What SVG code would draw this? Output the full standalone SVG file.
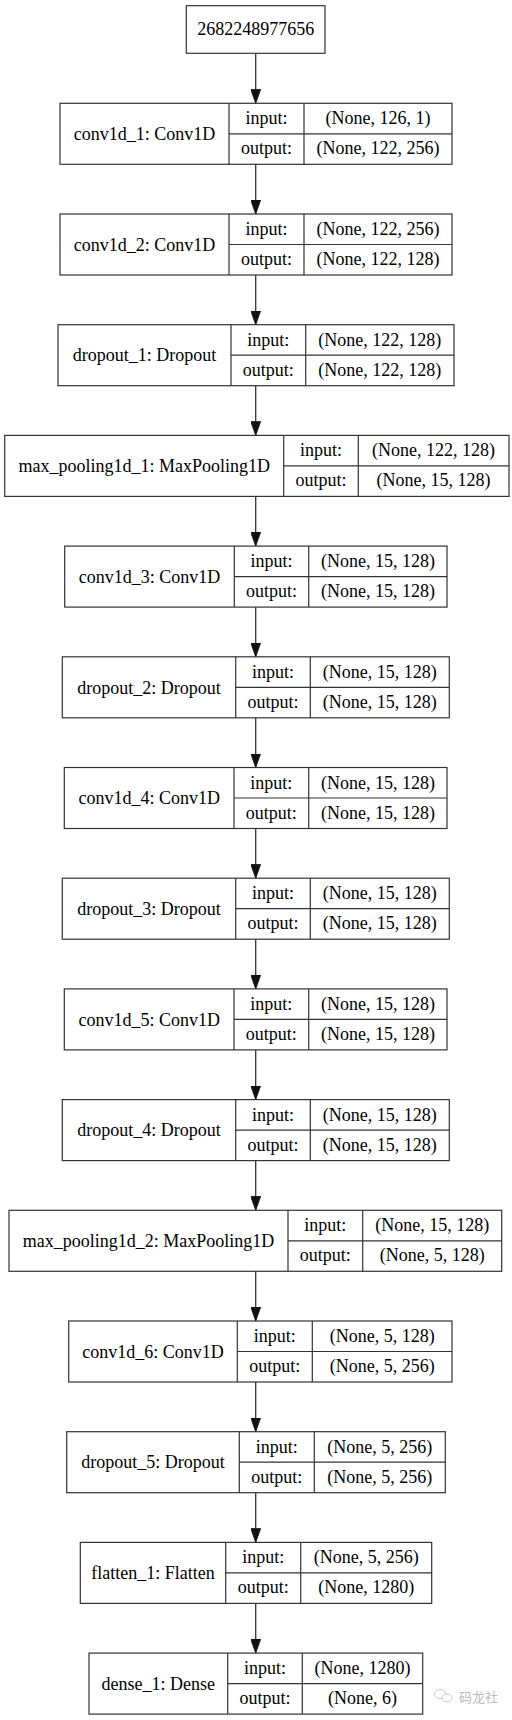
<svg xmlns="http://www.w3.org/2000/svg" width="512" height="1720" viewBox="0 0 512 1720">
<style>
.box{fill:none;stroke:#333;stroke-width:1.2}
.div{stroke:#333;stroke-width:1.2}
text{font-family:"Liberation Serif","Times New Roman",serif;font-size:18px;fill:#000;text-anchor:middle}
.edge{stroke:#333;stroke-width:1.3;fill:none}
.wm{font-family:"Noto Sans CJK SC",sans-serif;font-size:13px;fill:#bbb;text-anchor:start}
</style>
<defs>
<marker id="ah" viewBox="0 0 14 10" refX="14" refY="5" markerWidth="14" markerHeight="10" markerUnits="userSpaceOnUse" orient="auto">
<path d="M0,0 L14,5 L0,10 z" fill="#111" stroke="#111" stroke-width="0.8"/>
</marker>
</defs>
<rect width="512" height="1720" fill="#fff"/>

<g id="connectors">
<line class="edge" x1="255.7" y1="53.3" x2="255.7" y2="103.3" marker-end="url(#ah)"/>
<line class="edge" x1="255.7" y1="164.3" x2="255.7" y2="214" marker-end="url(#ah)"/>
<line class="edge" x1="255.7" y1="275" x2="255.7" y2="324.7" marker-end="url(#ah)"/>
<line class="edge" x1="255.7" y1="385.7" x2="255.7" y2="435.4" marker-end="url(#ah)"/>
<line class="edge" x1="255.7" y1="496.4" x2="255.7" y2="546.1" marker-end="url(#ah)"/>
<line class="edge" x1="255.7" y1="607.1" x2="255.7" y2="656.8" marker-end="url(#ah)"/>
<line class="edge" x1="255.7" y1="717.8" x2="255.7" y2="767.5" marker-end="url(#ah)"/>
<line class="edge" x1="255.7" y1="828.5" x2="255.7" y2="878.2" marker-end="url(#ah)"/>
<line class="edge" x1="255.7" y1="939.2" x2="255.7" y2="988.9" marker-end="url(#ah)"/>
<line class="edge" x1="255.7" y1="1049.9" x2="255.7" y2="1099.6" marker-end="url(#ah)"/>
<line class="edge" x1="255.7" y1="1160.6" x2="255.7" y2="1210.3" marker-end="url(#ah)"/>
<line class="edge" x1="255.7" y1="1271.3" x2="255.7" y2="1321" marker-end="url(#ah)"/>
<line class="edge" x1="255.7" y1="1382" x2="255.7" y2="1431.7" marker-end="url(#ah)"/>
<line class="edge" x1="255.7" y1="1492.7" x2="255.7" y2="1542.4" marker-end="url(#ah)"/>
<line class="edge" x1="255.7" y1="1603.4" x2="255.7" y2="1653.1" marker-end="url(#ah)"/>
</g>

<g id="input_node">
<rect class="box" x="186.3" y="5.7" width="138.7" height="47.6"/>
<text x="255.7" y="35">2682248977656</text>
</g>

<g id="conv1d_1">
<rect class="box" x="60" y="103.3" width="392" height="61"/>
<line class="div" x1="229" y1="103.3" x2="229" y2="164.3"/>
<line class="div" x1="304" y1="103.3" x2="304" y2="164.3"/>
<line class="div" x1="229" y1="133.8" x2="452" y2="133.8"/>
<text x="144.5" y="140">conv1d_1: Conv1D</text>
<text x="266.5" y="124.3">input:</text>
<text x="266.5" y="154.3">output:</text>
<text x="378" y="124.3">(None, 126, 1)</text>
<text x="378" y="154.3">(None, 122, 256)</text>
</g>

<g id="conv1d_2">
<rect class="box" x="60" y="214" width="392" height="61"/>
<line class="div" x1="229" y1="214" x2="229" y2="275"/>
<line class="div" x1="304" y1="214" x2="304" y2="275"/>
<line class="div" x1="229" y1="244.5" x2="452" y2="244.5"/>
<text x="144.5" y="250.7">conv1d_2: Conv1D</text>
<text x="266.5" y="235">input:</text>
<text x="266.5" y="265">output:</text>
<text x="378" y="235">(None, 122, 256)</text>
<text x="378" y="265">(None, 122, 128)</text>
</g>

<g id="dropout_1">
<rect class="box" x="58" y="324.7" width="396" height="61"/>
<line class="div" x1="231" y1="324.7" x2="231" y2="385.7"/>
<line class="div" x1="305.7" y1="324.7" x2="305.7" y2="385.7"/>
<line class="div" x1="231" y1="355.2" x2="454" y2="355.2"/>
<text x="144.5" y="361.4">dropout_1: Dropout</text>
<text x="268.3" y="345.7">input:</text>
<text x="268.3" y="375.7">output:</text>
<text x="379.8" y="345.7">(None, 122, 128)</text>
<text x="379.8" y="375.7">(None, 122, 128)</text>
</g>

<g id="max_pooling1d_1">
<rect class="box" x="4.7" y="435.4" width="504.3" height="61"/>
<line class="div" x1="283.7" y1="435.4" x2="283.7" y2="496.4"/>
<line class="div" x1="358.3" y1="435.4" x2="358.3" y2="496.4"/>
<line class="div" x1="283.7" y1="465.9" x2="509" y2="465.9"/>
<text x="144.2" y="472.1">max_pooling1d_1: MaxPooling1D</text>
<text x="321" y="456.4">input:</text>
<text x="321" y="486.4">output:</text>
<text x="433.6" y="456.4">(None, 122, 128)</text>
<text x="433.6" y="486.4">(None, 15, 128)</text>
</g>

<g id="conv1d_3">
<rect class="box" x="64.7" y="546.1" width="382.3" height="61"/>
<line class="div" x1="234.3" y1="546.1" x2="234.3" y2="607.1"/>
<line class="div" x1="308.7" y1="546.1" x2="308.7" y2="607.1"/>
<line class="div" x1="234.3" y1="576.6" x2="447" y2="576.6"/>
<text x="149.5" y="582.8">conv1d_3: Conv1D</text>
<text x="271.5" y="567.1">input:</text>
<text x="271.5" y="597.1">output:</text>
<text x="377.9" y="567.1">(None, 15, 128)</text>
<text x="377.9" y="597.1">(None, 15, 128)</text>
</g>

<g id="dropout_2">
<rect class="box" x="62.3" y="656.8" width="387" height="61"/>
<line class="div" x1="235.7" y1="656.8" x2="235.7" y2="717.8"/>
<line class="div" x1="310.3" y1="656.8" x2="310.3" y2="717.8"/>
<line class="div" x1="235.7" y1="687.3" x2="449.3" y2="687.3"/>
<text x="149" y="693.5">dropout_2: Dropout</text>
<text x="273" y="677.8">input:</text>
<text x="273" y="707.8">output:</text>
<text x="379.8" y="677.8">(None, 15, 128)</text>
<text x="379.8" y="707.8">(None, 15, 128)</text>
</g>

<g id="conv1d_4">
<rect class="box" x="64.3" y="767.5" width="382.7" height="61"/>
<line class="div" x1="234" y1="767.5" x2="234" y2="828.5"/>
<line class="div" x1="308.7" y1="767.5" x2="308.7" y2="828.5"/>
<line class="div" x1="234" y1="798" x2="447" y2="798"/>
<text x="149.2" y="804.2">conv1d_4: Conv1D</text>
<text x="271.3" y="788.5">input:</text>
<text x="271.3" y="818.5">output:</text>
<text x="377.9" y="788.5">(None, 15, 128)</text>
<text x="377.9" y="818.5">(None, 15, 128)</text>
</g>

<g id="dropout_3">
<rect class="box" x="62.3" y="878.2" width="387" height="61"/>
<line class="div" x1="235.7" y1="878.2" x2="235.7" y2="939.2"/>
<line class="div" x1="310.3" y1="878.2" x2="310.3" y2="939.2"/>
<line class="div" x1="235.7" y1="908.7" x2="449.3" y2="908.7"/>
<text x="149" y="914.9">dropout_3: Dropout</text>
<text x="273" y="899.2">input:</text>
<text x="273" y="929.2">output:</text>
<text x="379.8" y="899.2">(None, 15, 128)</text>
<text x="379.8" y="929.2">(None, 15, 128)</text>
</g>

<g id="conv1d_5">
<rect class="box" x="64.3" y="988.9" width="382.7" height="61"/>
<line class="div" x1="234" y1="988.9" x2="234" y2="1049.9"/>
<line class="div" x1="308.7" y1="988.9" x2="308.7" y2="1049.9"/>
<line class="div" x1="234" y1="1019.4" x2="447" y2="1019.4"/>
<text x="149.2" y="1025.6">conv1d_5: Conv1D</text>
<text x="271.3" y="1009.9">input:</text>
<text x="271.3" y="1039.9">output:</text>
<text x="377.9" y="1009.9">(None, 15, 128)</text>
<text x="377.9" y="1039.9">(None, 15, 128)</text>
</g>

<g id="dropout_4">
<rect class="box" x="62.3" y="1099.6" width="387" height="61"/>
<line class="div" x1="235.7" y1="1099.6" x2="235.7" y2="1160.6"/>
<line class="div" x1="310.3" y1="1099.6" x2="310.3" y2="1160.6"/>
<line class="div" x1="235.7" y1="1130.1" x2="449.3" y2="1130.1"/>
<text x="149" y="1136.3">dropout_4: Dropout</text>
<text x="273" y="1120.6">input:</text>
<text x="273" y="1150.6">output:</text>
<text x="379.8" y="1120.6">(None, 15, 128)</text>
<text x="379.8" y="1150.6">(None, 15, 128)</text>
</g>

<g id="max_pooling1d_2">
<rect class="box" x="9" y="1210.3" width="492.7" height="61"/>
<line class="div" x1="288" y1="1210.3" x2="288" y2="1271.3"/>
<line class="div" x1="362.7" y1="1210.3" x2="362.7" y2="1271.3"/>
<line class="div" x1="288" y1="1240.8" x2="501.7" y2="1240.8"/>
<text x="148.5" y="1247">max_pooling1d_2: MaxPooling1D</text>
<text x="325.3" y="1231.3">input:</text>
<text x="325.3" y="1261.3">output:</text>
<text x="432.2" y="1231.3">(None, 15, 128)</text>
<text x="432.2" y="1261.3">(None, 5, 128)</text>
</g>

<g id="conv1d_6">
<rect class="box" x="68.7" y="1321" width="383.3" height="61"/>
<line class="div" x1="237.3" y1="1321" x2="237.3" y2="1382"/>
<line class="div" x1="312.3" y1="1321" x2="312.3" y2="1382"/>
<line class="div" x1="237.3" y1="1351.5" x2="452" y2="1351.5"/>
<text x="153" y="1357.7">conv1d_6: Conv1D</text>
<text x="274.8" y="1342">input:</text>
<text x="274.8" y="1372">output:</text>
<text x="382.2" y="1342">(None, 5, 128)</text>
<text x="382.2" y="1372">(None, 5, 256)</text>
</g>

<g id="dropout_5">
<rect class="box" x="66.7" y="1431.7" width="378.6" height="61"/>
<line class="div" x1="239.3" y1="1431.7" x2="239.3" y2="1492.7"/>
<line class="div" x1="314.3" y1="1431.7" x2="314.3" y2="1492.7"/>
<line class="div" x1="239.3" y1="1462.2" x2="445.3" y2="1462.2"/>
<text x="153" y="1468.4">dropout_5: Dropout</text>
<text x="276.8" y="1452.7">input:</text>
<text x="276.8" y="1482.7">output:</text>
<text x="379.8" y="1452.7">(None, 5, 256)</text>
<text x="379.8" y="1482.7">(None, 5, 256)</text>
</g>

<g id="flatten_1">
<rect class="box" x="80.3" y="1542.4" width="351.4" height="61"/>
<line class="div" x1="225.7" y1="1542.4" x2="225.7" y2="1603.4"/>
<line class="div" x1="300.7" y1="1542.4" x2="300.7" y2="1603.4"/>
<line class="div" x1="225.7" y1="1572.9" x2="431.7" y2="1572.9"/>
<text x="153" y="1579.1">flatten_1: Flatten</text>
<text x="263.2" y="1563.4">input:</text>
<text x="263.2" y="1593.4">output:</text>
<text x="366.2" y="1563.4">(None, 5, 256)</text>
<text x="366.2" y="1593.4">(None, 1280)</text>
</g>

<g id="dense_1">
<rect class="box" x="89" y="1653.1" width="333.7" height="61"/>
<line class="div" x1="227.7" y1="1653.1" x2="227.7" y2="1714.1"/>
<line class="div" x1="302.3" y1="1653.1" x2="302.3" y2="1714.1"/>
<line class="div" x1="227.7" y1="1683.6" x2="422.7" y2="1683.6"/>
<text x="158.3" y="1689.8">dense_1: Dense</text>
<text x="265" y="1674.1">input:</text>
<text x="265" y="1704.1">output:</text>
<text x="362.5" y="1674.1">(None, 1280)</text>
<text x="362.5" y="1704.1">(None, 6)</text>
</g>

<g id="watermark">
<ellipse cx="440" cy="1694" rx="5.5" ry="4.5" fill="none" stroke="#ccc" stroke-width="1"/>
<ellipse cx="447" cy="1698" rx="5" ry="4" fill="#fff" stroke="#ccc" stroke-width="1"/>
<text class="wm" x="459" y="1702">码龙社</text>
</g>
</svg>
